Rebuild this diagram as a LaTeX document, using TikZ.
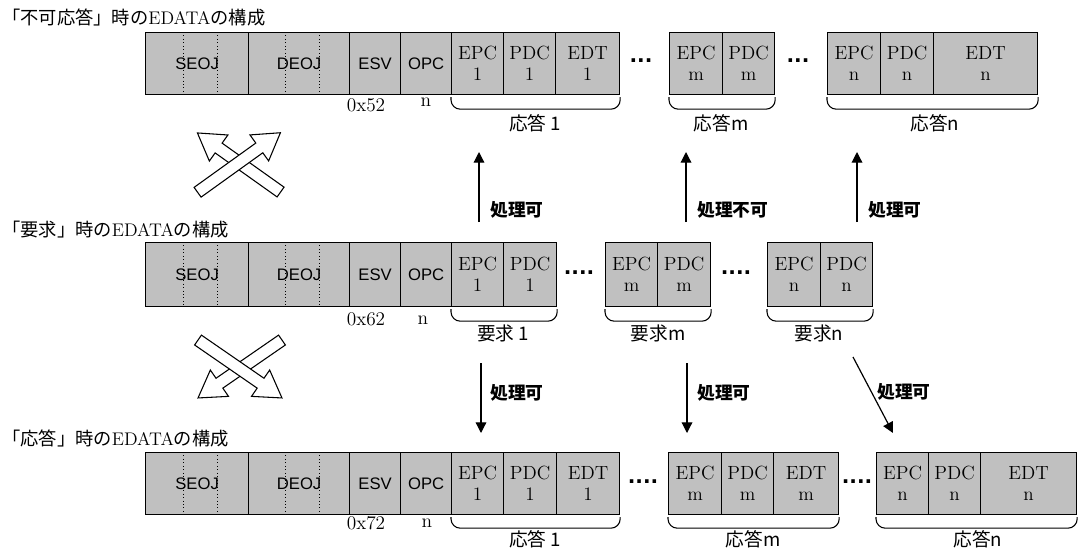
\documentclass[tikz,border=0pt]{standalone}
\usepackage{fontspec}
\setsansfont{Liberation Sans}
\newfontfamily\jpfont{Noto Sans CJK JP}
\newfontfamily\dotfont{DejaVu Sans}
\usepackage{tikz}
\usetikzlibrary{calc,arrows.meta}

\tikzset{
  cell/.style={draw, line width=0.9pt, fill={rgb, 255:red, 192; green, 192; blue, 192}, anchor=north west, inner sep=0pt, align=center, font={\fontsize{14.3}{15.75}\selectfont}},
  cw/.style={minimum width=#1*0.75pt},
  ch/.style={minimum height=#1*0.75pt},
  sfcell/.style={cell, font={\sffamily\fontsize{12.5}{14}\selectfont}},
  objline/.style={line width=0.6pt, dotted},
  brace/.style={line width=0.8pt, rounded corners=7pt},
  flow/.style={line width=0.9pt, -{Triangle[length=8pt,width=8pt]}},
  oklabel/.style={anchor=west, inner sep=0.75pt, font={\jpfont\bfseries\fontsize{13.3}{16}\selectfont}},
  jplabel/.style={inner sep=0.75pt, font={\jpfont\fontsize{14}{16}\selectfont}},
  numlabel/.style={inner sep=0.75pt, font={\fontsize{14.5}{16}\selectfont}},
  dotlabel/.style={inner sep=0pt, font={\dotfont\bfseries\fontsize{15}{16}\selectfont}},
  blockarrow/.style={line width=0.8pt, fill=white, line join=miter},
  titlelabel/.style={anchor=west, inner sep=0.75pt, font={\fontsize{13.7}{16}\selectfont}}
}

\begin{document}
\begin{tikzpicture}[x=0.75pt,y=0.75pt,yscale=-1,xscale=1]
\useasboundingbox (0,0) rectangle (1078,550);

%%% row 1 : 不可応答
% Text Node
\draw (1,17) node [titlelabel] (ttlng) {{\jpfont 「不可応答」時の}EDATA{\jpfont の構成}};
%Shape: Rectangle
\node [sfcell, cw=103, ch=62] (r1seoj) at (145,32) {SEOJ};
\node [sfcell, cw=101, ch=62] (r1deoj) at (248,32) {DEOJ};
\node [sfcell, cw=51, ch=62] (r1esv) at (349,32) {ESV};
\node [sfcell, cw=51, ch=62] (r1opc) at (400,32) {OPC};
\node [cell, cw=52, ch=62] (r1epc1) at (451,32) {EPC\\1};
\node [cell, cw=52, ch=62] (r1pdc1) at (503,32) {PDC\\1};
\node [cell, cw=64, ch=62] (r1edt1) at (555,32) {EDT\\1};
\node [cell, cw=53, ch=62] (r1epcm) at (669,32) {EPC\\m};
\node [cell, cw=52, ch=62] (r1pdcm) at (722,32) {PDC\\m};
\node [cell, cw=53, ch=62] (r1epcn) at (827,32) {EPC\\n};
\node [cell, cw=53, ch=62] (r1pdcn) at (880,32) {PDC\\n};
\node [cell, cw=104, ch=62] (r1edtn) at (933,32) {EDT\\n};
%Straight Lines
\draw [objline] (183,32) -- (183,94) ;
\draw [objline] (217,32) -- (217,94) ;
\draw [objline] (285,32) -- (285,94) ;
\draw [objline] (319,32) -- (319,94) ;
% Text Node
\draw (641,61) node [dotlabel] (r1dots1) {...};
\draw (798,61) node [dotlabel] (r1dots2) {...};
\draw (366,105) node [numlabel] (r1esvval) {0x52};
\draw (426,102) node [numlabel] (r1opcval) {n};
%Shape: Brace
\draw [brace] ($(r1epc1.south west)+(0,2)$) |- ($(r1edt1.south east)+(0,14)$) -- ($(r1edt1.south east)+(0,2)$) ;
\draw [brace] ($(r1epcm.south west)+(0,2)$) |- ($(r1pdcm.south east)+(0,14)$) -- ($(r1pdcm.south east)+(0,2)$) ;
\draw [brace] ($(r1epcn.south west)+(0,2)$) |- ($(r1edtn.south east)+(0,14)$) -- ($(r1edtn.south east)+(0,2)$) ;
% Text Node
\draw (535,123) node [jplabel] (r1res1) {応答 1};
\draw (721,123) node [jplabel] (r1resm) {応答m};
\draw (935,123) node [jplabel] (r1resn) {応答n};

%%% row 2 : 要求
% Text Node
\draw (1,230) node [titlelabel] (ttlreq) {{\jpfont 「要求」時の}EDATA{\jpfont の構成}};
%Shape: Rectangle
\node [sfcell, cw=103, ch=64] (r2seoj) at (145,242) {SEOJ};
\node [sfcell, cw=101, ch=64] (r2deoj) at (248,242) {DEOJ};
\node [sfcell, cw=51, ch=64] (r2esv) at (349,242) {ESV};
\node [sfcell, cw=51, ch=64] (r2opc) at (400,242) {OPC};
\node [cell, cw=52, ch=64] (r2epc1) at (451,242) {EPC\\1};
\node [cell, cw=53, ch=64] (r2pdc1) at (503,242) {PDC\\1};
\node [cell, cw=52, ch=64] (r2epcm) at (605,242) {EPC\\m};
\node [cell, cw=53, ch=64] (r2pdcm) at (657,242) {PDC\\m};
\node [cell, cw=53, ch=64] (r2epcn) at (767,242) {EPC\\n};
\node [cell, cw=52, ch=64] (r2pdcn) at (820,242) {PDC\\n};
%Straight Lines
\draw [objline] (183,242) -- (183,306) ;
\draw [objline] (217,242) -- (217,306) ;
\draw [objline] (285,242) -- (285,306) ;
\draw [objline] (319,242) -- (319,306) ;
% Text Node
\draw (579,273) node [dotlabel] (r2dots1) {....};
\draw (736,273) node [dotlabel] (r2dots2) {....};
\draw (366,319) node [numlabel] (r2esvval) {0x62};
\draw (423,320) node [numlabel] (r2opcval) {n};
%Shape: Brace
\draw [brace] ($(r2epc1.south west)+(0,2)$) |- ($(r2pdc1.south east)+(0,14)$) -- ($(r2pdc1.south east)+(0,2)$) ;
\draw [brace] ($(r2epcm.south west)+(0,2)$) |- ($(r2pdcm.south east)+(0,14)$) -- ($(r2pdcm.south east)+(0,2)$) ;
\draw [brace] ($(r2epcn.south west)+(0,2)$) |- ($(r2pdcn.south east)+(0,14)$) -- ($(r2pdcn.south east)+(0,2)$) ;
% Text Node
\draw (503,333) node [jplabel] (r2req1) {要求 1};
\draw (658,333) node [jplabel] (r2reqm) {要求m};
\draw (819,333) node [jplabel] (r2reqn) {要求n};

%%% row 3 : 応答
% Text Node
\draw (1,438) node [titlelabel] (ttlres) {{\jpfont 「応答」時の}EDATA{\jpfont の構成}};
%Shape: Rectangle
\node [sfcell, cw=103, ch=62] (r3seoj) at (145,452) {SEOJ};
\node [sfcell, cw=101, ch=62] (r3deoj) at (248,452) {DEOJ};
\node [sfcell, cw=51, ch=62] (r3esv) at (349,452) {ESV};
\node [sfcell, cw=51, ch=62] (r3opc) at (400,452) {OPC};
\node [cell, cw=52, ch=62] (r3epc1) at (451,452) {EPC\\1};
\node [cell, cw=53, ch=62] (r3pdc1) at (503,452) {PDC\\1};
\node [cell, cw=63, ch=62] (r3edt1) at (556,452) {EDT\\1};
\node [cell, cw=53, ch=62] (r3epcm) at (668,452) {EPC\\m};
\node [cell, cw=52, ch=62] (r3pdcm) at (721,452) {PDC\\m};
\node [cell, cw=65, ch=62] (r3edtm) at (773,452) {EDT\\m};
\node [cell, cw=52, ch=62] (r3epcn) at (876,452) {EPC\\n};
\node [cell, cw=52, ch=62] (r3pdcn) at (928,452) {PDC\\n};
\node [cell, cw=96, ch=62] (r3edtn) at (980,452) {EDT\\n};
%Straight Lines
\draw [objline] (183,452) -- (183,514) ;
\draw [objline] (217,452) -- (217,514) ;
\draw [objline] (285,452) -- (285,514) ;
\draw [objline] (319,452) -- (319,514) ;
% Text Node
\draw (643,482) node [dotlabel] (r3dots1) {....};
\draw (857,482) node [dotlabel] (r3dots2) {....};
\draw (366,523) node [numlabel] (r3esvval) {0x72};
\draw (427,523) node [numlabel] (r3opcval) {n};
%Shape: Brace
\draw [brace] ($(r3epc1.south west)+(0,2)$) |- ($(r3edt1.south east)+(0,13)$) -- ($(r3edt1.south east)+(0,2)$) ;
\draw [brace] ($(r3epcm.south west)+(0,2)$) |- ($(r3edtm.south east)+(0,13)$) -- ($(r3edtm.south east)+(0,2)$) ;
\draw [brace] ($(r3epcn.south west)+(0,2)$) |- ($(r3edtn.south east)+(0,13)$) -- ($(r3edtn.south east)+(0,2)$) ;
% Text Node
\draw (535,539) node [jplabel] (r3res1) {応答 1};
\draw (753,539) node [jplabel] (r3resm) {応答m};
\draw (978,539) node [jplabel] (r3resn) {応答n};

%%% arrows between rows
\coordinate (u1s) at (479,222); \coordinate (u1e) at (479,152);
\coordinate (u2s) at (686,222); \coordinate (u2e) at (686,152);
\coordinate (u3s) at (857,222); \coordinate (u3e) at (857,152);
\coordinate (d1s) at (481,363); \coordinate (d1e) at (481,433);
\coordinate (d2s) at (687,363); \coordinate (d2e) at (687,433);
\coordinate (d3s) at (853,357); \coordinate (d3e) at (893,433);
%Straight Lines
\draw [flow] (u1s) -- (u1e) ;
\draw [flow] (u2s) -- (u2e) ;
\draw [flow] (u3s) -- (u3e) ;
\draw [flow] (d1s) -- (d1e) ;
\draw [flow] (d2s) -- (d2e) ;
\draw [flow] (d3s) -- (d3e) ;
% Text Node
\draw (489,210) node [oklabel] (okup1) {処理可};
\draw (696,210) node [oklabel] (ngup) {処理不可};
\draw (867,210) node [oklabel] (okup3) {処理可};
\draw (489,393) node [oklabel] (okdn1) {処理可};
\draw (696,393) node [oklabel] (okdn2) {処理可};
\draw (876,392) node [oklabel] (okdn3) {処理可};

%Shape: Block Arrows (up)
\begin{scope}[shift={(239,162.5)}, rotate=215.4]
\draw [blockarrow] (-51,-6) -- (25,-6) -- (25,-16) -- (51,0) -- (25,16) -- (25,6) -- (-51,6) -- cycle ;
\end{scope}
\begin{scope}[shift={(239,162.5)}, rotate=-35.7]
\draw [blockarrow] (-51,-6) -- (25,-6) -- (25,-16) -- (51,0) -- (25,16) -- (25,6) -- (-51,6) -- cycle ;
\end{scope}
%Shape: Block Arrows (down)
\begin{scope}[shift={(240,369)}, rotate=145.4]
\draw [blockarrow] (-51,-6) -- (25,-6) -- (25,-16) -- (51,0) -- (25,16) -- (25,6) -- (-51,6) -- cycle ;
\end{scope}
\begin{scope}[shift={(240,369)}, rotate=34.6]
\draw [blockarrow] (-51,-6) -- (25,-6) -- (25,-16) -- (51,0) -- (25,16) -- (25,6) -- (-51,6) -- cycle ;
\end{scope}
\end{tikzpicture}
\end{document}
